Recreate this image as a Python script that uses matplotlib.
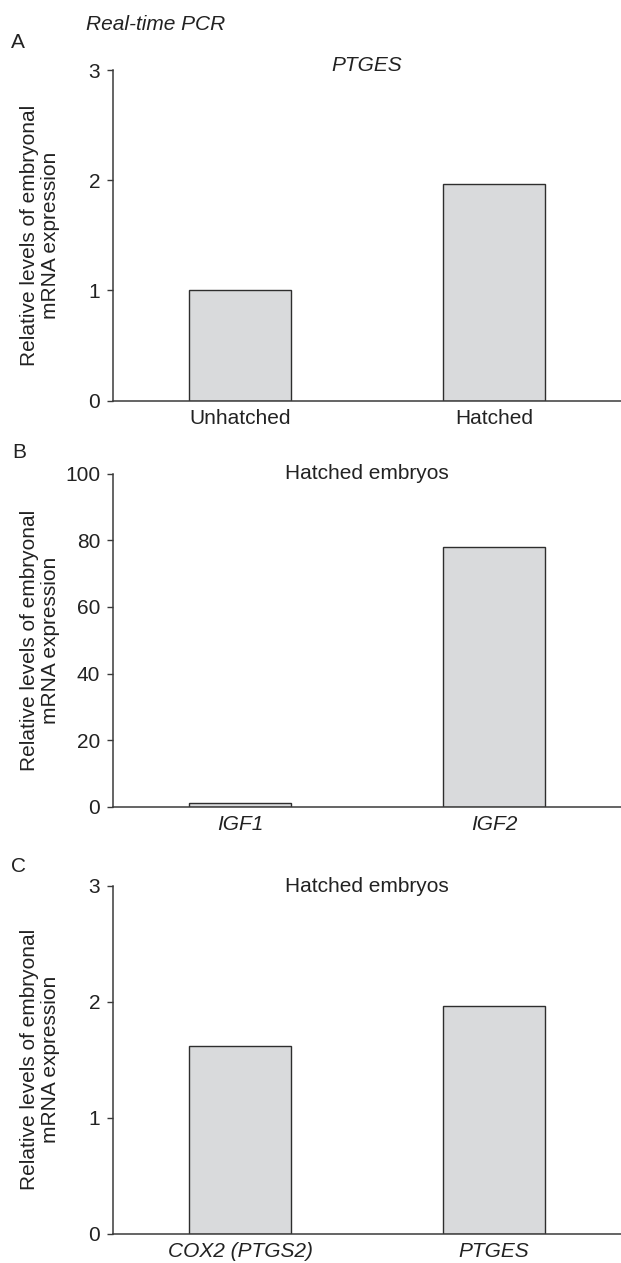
import matplotlib
matplotlib.use('Agg')
import matplotlib.pyplot as plt

plt.rcParams['font.family'] = ['Liberation Sans', 'DejaVu Sans']
plt.rcParams['font.size'] = 15

# data
a_labels = ['Unhatched', 'Hatched']
a_values = [1.0, 1.97]
b_labels = ['IGF1', 'IGF2']
b_values = [1.0, 78.1]
c_labels = ['COX2 (PTGS2)', 'PTGES']
c_values = [1.62, 1.96]

W, H = 621, 1263
fig = plt.figure(figsize=(W / 100, H / 100), dpi=100)

text_col = '#222222'
axis_col = '#3a3a3a'
bar_face = '#d9dadc'
bar_edge = '#2e2e2e'


def px_axes(left, top, bottom):
    # pixel box -> figure fraction
    return [left / W, 1 - bottom / H, (W - left) / W, (bottom - top) / H]


def draw_panel(box, labels, values, ylim, yticks, title, title_y, title_italic, tick_italic):
    ax = fig.add_axes(box)
    x = list(range(len(labels)))
    ax.bar(x, values, width=0.4, color=bar_face, edgecolor=bar_edge, linewidth=1.0)
    ax.set_xlim(-0.5, 1.5)
    ax.set_ylim(*ylim)
    ax.set_yticks(yticks)
    ax.set_xticks(x)
    ax.set_xticklabels(labels, style='italic' if tick_italic else 'normal', color=text_col)
    for s in ['top', 'right']:
        ax.spines[s].set_visible(False)
    for s in ['left', 'bottom']:
        ax.spines[s].set_color(axis_col)
        ax.spines[s].set_linewidth(1.1)
    ax.tick_params(axis='y', length=4.5, width=1.0, color=axis_col, pad=5, labelcolor=text_col)
    ax.tick_params(axis='x', length=0, pad=6, labelcolor=text_col)
    ax.text(0.5, title_y, title, transform=ax.transAxes, ha='center', va='center',
            style='italic' if title_italic else 'normal', color=text_col)
    return ax


axA = draw_panel(px_axes(113.3, 70, 400.7), a_labels, a_values, (0, 3), [0, 1, 2, 3],
                 'PTGES', 1.015, True, False)
axB = draw_panel(px_axes(113.3, 473.7, 806.7), b_labels, b_values, (0, 100), [0, 20, 40, 60, 80, 100],
                 'Hatched embryos', 1.002, False, True)
axC = draw_panel(px_axes(113.3, 885.7, 1233.7), c_labels, c_values, (0, 3), [0, 1, 2, 3],
                 'Hatched embryos', 0.997, False, True)

ylab = 'Relative levels of embryonal\nmRNA expression'
for top, bottom in [(70, 400.7), (473.7, 806.7), (885.7, 1233.7)]:
    fig.text(40 / W, 1 - (top + bottom) / 2 / H, ylab, rotation=90, ha='center', va='center',
             linespacing=1.1, color=text_col)

fig.text(86 / W, 1 - 24 / H, 'Real-time PCR', style='italic', ha='left', va='center', color=text_col)
fig.text(18 / W, 1 - 43 / H, 'A', ha='center', va='center', color=text_col)
fig.text(19 / W, 1 - 453 / H, 'B', ha='center', va='center', color=text_col)
fig.text(18 / W, 1 - 866 / H, 'C', ha='center', va='center', color=text_col)

fig.savefig('out.png', dpi=100)
